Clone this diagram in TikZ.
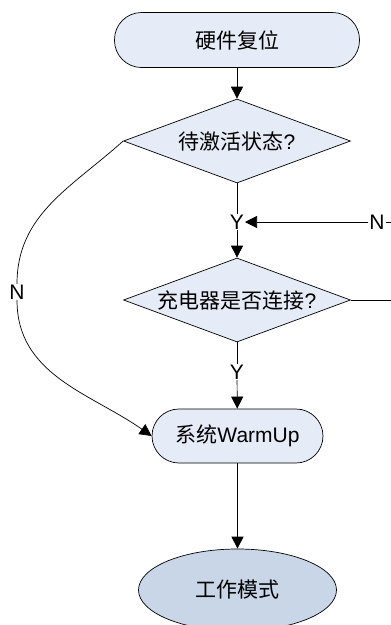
\documentclass[tikz,border=0pt]{standalone}
\usepackage{fontspec}
\setmainfont{Liberation Sans}
\newfontfamily\cjk{Noto Sans CJK SC}
\usetikzlibrary{shapes.geometric,arrows.meta}
\definecolor{boxfill}{RGB}{230,236,247}
\definecolor{ellfill}{RGB}{201,214,231}
\tikzset{
  every node/.style={font=\fontsize{21}{25}\selectfont},
  line/.style={draw=black,line width=0.7pt},
  arr/.style={line,-{Triangle[length=12pt,width=12pt]}},
  term/.style={draw=black,line width=0.7pt,fill=boxfill,rectangle,rounded corners=27pt,inner sep=0pt},
  decision/.style={draw=black,line width=0.7pt,fill=boxfill,diamond,aspect=2.7,inner sep=1pt,minimum width=227pt,minimum height=84pt},
  endstate/.style={draw=black,line width=0.7pt,fill=ellfill,ellipse,minimum width=198pt,minimum height=82pt,inner sep=0pt},
  lab/.style={inner sep=1pt,outer sep=0pt,fill=white}
}
\begin{document}
\begin{tikzpicture}[x=1pt,y=1pt]
\useasboundingbox[fill=white] (0,0) rectangle (391,-625);
\node[term,minimum width=245pt,minimum height=55pt] (reset) at (237,-40) {\cjk 硬件复位};
\node[decision] (d1) at (237,-141) {{\cjk 待激活状态}?};
\node[lab] (y1) at (237,-222) {Y};
\node[lab] (n1) at (377,-222) {N};
\coordinate (e1) at (391,-222);
\node[decision] (d2) at (237,-300) {{\cjk 充电器是否连接}?};
\coordinate (e2) at (391,-300);
\node[lab] (y2) at (237,-372) {Y};
\node[term,minimum width=171pt,minimum height=54pt] (warm) at (237.5,-436) {{\cjk 系统}WarmUp};
\node[endstate] (work) at (237.5,-590) {\cjk 工作模式};
\node[lab] (nl) at (17,-292) {N};

\draw[arr] (reset) -- (d1);
\draw[line] (d1.south) -- (y1);
\draw[line] (e1) -- (n1);
\draw[arr] (n1) -- (y1);
\draw[arr] (y1) -- (d2);
\draw[line] (d2.east) -- (e2);
\draw[line] (d2.south) -- (y2);
\draw[arr] (y2) -- (warm);
\draw[arr] (warm) -- (work);
\draw[line] (d1.west) to[out=222,in=90] (nl.north);
\draw[arr] (nl.south) to[out=-90,in=145] (warm.west);
\end{tikzpicture}
\end{document}
